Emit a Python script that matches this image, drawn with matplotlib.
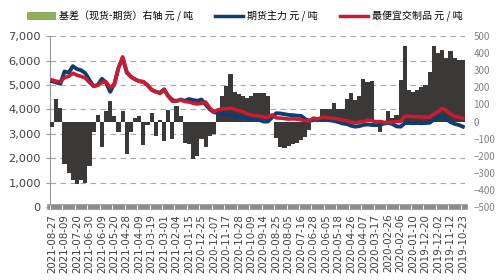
import numpy as np
import matplotlib
matplotlib.use('Agg')
import matplotlib.pyplot as plt
from matplotlib.patches import Patch
from matplotlib.lines import Line2D

plt.rcParams['font.family'] = ['Noto Sans CJK SC', 'DejaVu Sans']

# tick labels (every 3rd point), newest date on the left
date_labels = ['2021-08-27', '2021-08-09', '2021-07-20', '2021-06-30', '2021-06-09',
               '2021-05-20', '2021-04-28', '2021-04-09', '2021-03-19', '2021-03-01',
               '2021-02-04', '2021-01-15', '2020-12-25', '2020-12-07', '2020-11-17',
               '2020-10-28', '2020-10-09', '2020-09-14', '2020-08-25', '2020-08-05',
               '2020-07-16', '2020-06-28', '2020-06-05', '2020-05-18', '2020-04-26',
               '2020-04-07', '2020-03-17', '2020-02-26', '2020-02-06', '2020-01-10',
               '2019-12-20', '2019-12-02', '2019-11-12', '2019-10-23']

# 期货主力 (元/吨)
futures = [5150, 5100, 5050, 5550, 5500, 5770, 5650, 5600, 5480, 5200,
           4950, 5000, 5250, 5100, 4720, 5050, 5700, 6100, 5500, 5330,
           5230, 5150, 5130, 4980, 4800, 4720, 4680, 4820, 4550, 4380,
           4340, 4400, 4350, 4420, 4380, 4350, 4400, 4200, 4000, 3880,
           3850, 3820, 3800, 3770, 3730, 3700, 3680, 3640, 3600, 3580,
           3560, 3500, 3500, 3670, 3840, 3830, 3800, 3770, 3760, 3740,
           3730, 3600, 3530, 3560, 3590, 3600, 3570, 3550, 3520, 3480,
           3420, 3400, 3330, 3290, 3310, 3360, 3380, 3360, 3350, 3360,
           3420, 3440, 3400, 3300, 3290, 3430, 3440, 3430, 3440, 3430,
           3440, 3450, 3580, 3670, 3720, 3600, 3480, 3400, 3360, 3290]

# 最便宜交制品 (元/吨)
cheapest = [5200, 5150, 5130, 5300, 5350, 5480, 5400, 5350, 5280, 5100,
            4950, 4980, 5100, 5130, 4900, 5000, 5700, 6150, 5550, 5330,
            5230, 5150, 5130, 5000, 4800, 4720, 4650, 4800, 4530, 4330,
            4350, 4380, 4320, 4300, 4250, 4220, 4240, 4300, 4060, 3900,
            3980, 4010, 4030, 4050, 4000, 3950, 3900, 3820, 3770, 3740,
            3720, 3680, 3670, 3770, 3650, 3640, 3620, 3600, 3610, 3600,
            3570, 3530, 3530, 3640, 3600, 3670, 3660, 3650, 3620, 3600,
            3560, 3530, 3480, 3450, 3480, 3490, 3560, 3540, 3490, 3500,
            3470, 3450, 3480, 3500, 3500, 3720, 3720, 3700, 3700, 3690,
            3670, 3680, 3800, 3900, 4040, 3950, 3810, 3720, 3670, 3640]

# 基差 (现货-期货), 右轴 (元/吨)
basis = [-30, 130, 80, -250, -300, -340, -368, -340, -360, -260,
         -60, 40, -150, 60, 120, 30, -60, 60, -190, -60,
         20, 35, -140, -20, 50, -86, 11, -115, 70, -100,
         90, 30, -124, -130, -222, -200, -105, -150, -86, -75,
         70, 148, 206, 280, 170, 160, 150, 135, 148, 165,
         168, 168, 148, 0, -95, -148, -154, -142, -134, -124,
         -110, -90, -47, 0, 10, 72, 74, 75, 109, 76,
         74, 130, 168, 125, 150, 250, 230, 236, -8, -60,
         0, 60, 20, 40, 246, 440, 187, 170, 187, 200,
         216, 290, 440, 400, 420, 370, 411, 370, 363, 358]

x = np.arange(len(futures))
tick_pos = np.arange(0, len(futures), 3)

fig = plt.figure(figsize=(5, 2.8), dpi=100)
ax = fig.add_axes([0.1, 0.261, 0.83, 0.61])
ax2 = ax.twinx()
ax3 = ax.twinx()

# left axis: grid and labels only
ax.set_ylim(0, 7000)
ax.set_yticks(range(0, 7001, 1000))
ax.set_yticklabels([f'{v:,}' for v in range(0, 7001, 1000)], family='DejaVu Sans')
ax.grid(axis='y', linestyle=(0, (5, 4)), color='#a6a6a6', linewidth=0.8)
ax.tick_params(axis='y', labelsize=8.2, labelcolor='#404040', length=3, color='#999999')
for s in ['top', 'right', 'bottom']:
    ax.spines[s].set_visible(False)
ax.spines['left'].set_color('#999999')

# right axis: basis bars
ax2.bar(x, basis, width=1.0, color='#3b3838', linewidth=0)
ax2.set_ylim(-500, 500)
ax2.set_yticks(range(-500, 501, 100))
ax2.tick_params(axis='y', labelsize=7, labelcolor='#808080', length=0, pad=6)
for s in ['top', 'right', 'bottom', 'left']:
    ax2.spines[s].set_visible(False)

# price lines on top
ax3.plot(x, futures, color='#0e3d73', linewidth=2.8)
ax3.plot(x, cheapest, color='#cc1a2e', linewidth=2.6)
ax3.set_ylim(0, 7000)
ax3.set_yticks([])
for s in ['top', 'right', 'bottom', 'left']:
    ax3.spines[s].set_visible(False)

# grey x-axis band with white separators
ax3.axhline(0, color='#8c8c8c', linewidth=4, clip_on=False, zorder=5)
ax3.vlines(tick_pos - 0.5, -90, 90, color='white', linewidth=0.8, clip_on=False, zorder=6)

ax.set_xlim(-0.5, len(futures) - 0.5)
ax.set_xticks(tick_pos)
ax.set_xticklabels(date_labels, rotation=90, family='DejaVu Sans')
ax.tick_params(axis='x', labelsize=7.4, labelcolor='#404040', length=0, pad=5)

handles = [Patch(facecolor='#8faf5a', edgecolor='#7a9a48', linewidth=0.5),
           Line2D([], [], color='#0e3d73', linewidth=2.5),
           Line2D([], [], color='#cc1a2e', linewidth=2.5)]
labels = ['基差（现货-期货）右轴 元 / 吨', '期货主力 元 / 吨', '最便宜交制品 元 / 吨']
fig.legend(handles, labels, loc='upper center', bbox_to_anchor=(0.49, 0.995), ncol=3,
           frameon=False, fontsize=7.2, handlelength=2.8, handleheight=0.6,
           columnspacing=2.2, handletextpad=0.4)

fig.savefig('out.png', dpi=100)
